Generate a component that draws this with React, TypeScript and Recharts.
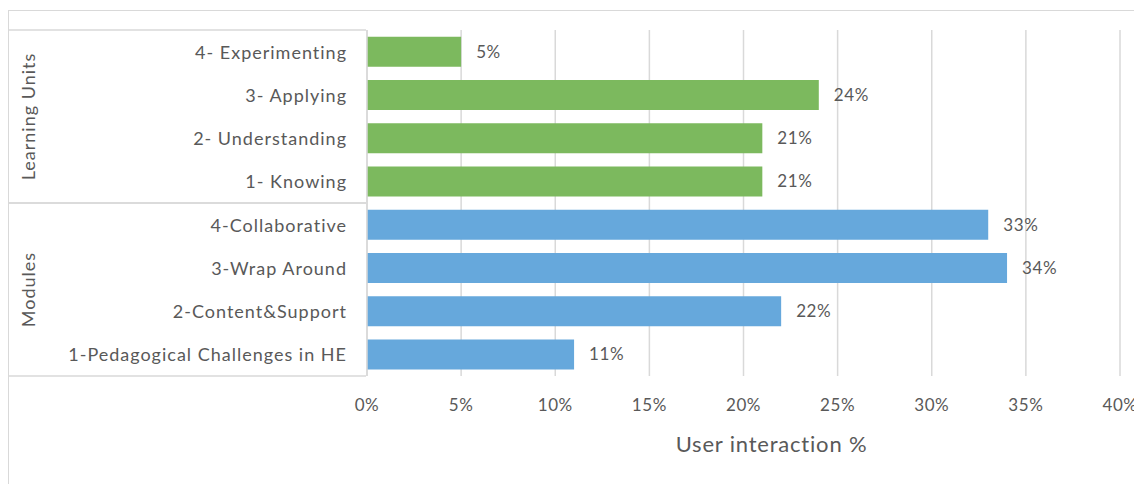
import { BarChart, Bar, XAxis, YAxis, CartesianGrid, LabelList, Cell } from "recharts";

const categories = [
  "4- Experimenting",
  "3- Applying",
  "2- Understanding",
  "1- Knowing",
  "4-Collaborative",
  "3-Wrap Around",
  "2-Content&Support",
  "1-Pedagogical Challenges in HE",
];
const groups = ["Learning Units", "Learning Units", "Learning Units", "Learning Units", "Modules", "Modules", "Modules", "Modules"];
const interaction = [5, 24, 21, 21, 33, 34, 22, 11];
const xTicks = [0, 5, 10, 15, 20, 25, 30, 35, 40];

const GREEN = "#7CB95E";
const BLUE = "#66A8DC";
const TEXT = "#595959";
const LINE = "#D9D9D9";
const FONT = "Lato, 'Open Sans', sans-serif";

const data = categories.map((name, i) => ({ name, group: groups[i], value: interaction[i] }));

function CategoryTick(props: any) {
  const { x, y, payload, index, height, visibleTicksCount } = props;
  const step = height / visibleTicksCount;
  const left = 0;
  const right = x + 1;
  const els: any[] = [];
  els.push(
    <text key="t" x={x - 18} y={y} textAnchor="end" dominantBaseline="central" fill={TEXT} fontSize={18} letterSpacing={1} fontFamily={FONT}>
      {payload.value}
    </text>
  );
  const prev = index > 0 ? groups[index - 1] : null;
  const next = index < groups.length - 1 ? groups[index + 1] : null;
  if (prev !== groups[index]) {
    els.push(<line key="top" x1={left} x2={right} y1={y - step / 2} y2={y - step / 2} stroke={LINE} strokeWidth={1.5} />);
    // group label centered on the group
    const count = groups.filter((g) => g === groups[index]).length;
    const cy = y - step / 2 + (count * step) / 2;
    els.push(
      <text key="g" x={19} y={cy} transform={`rotate(-90 19 ${cy})`} textAnchor="middle" dominantBaseline="central" fill={TEXT} fontSize={18} letterSpacing={1} fontFamily={FONT}>
        {groups[index]}
      </text>
    );
  }
  if (next !== groups[index]) {
    els.push(<line key="bot" x1={left} x2={right} y1={y + step / 2} y2={y + step / 2} stroke={LINE} strokeWidth={1.5} />);
  }
  return <g>{els}</g>;
}

export default function App() {
  return (
    <div
      style={{
        marginTop: 2,
        borderTop: `1.5px solid ${LINE}`,
        borderLeft: `1.5px solid ${LINE}`,
        width: 1134,
        height: 474,
      }}
    >
      <BarChart
        width={1133}
        height={473}
        data={data}
        layout="vertical"
        margin={{ top: 19, right: 22, bottom: 0, left: 0 }}
        barCategoryGap="15.5%"
      >
        <CartesianGrid horizontal={false} stroke={LINE} strokeWidth={1.5} />
        <XAxis
          type="number"
          domain={[0, 40]}
          ticks={xTicks}
          tickFormatter={(v) => `${v}%`}
          axisLine={false}
          tickLine={false}
          tickSize={0}
          tickMargin={23}
          height={108}
          tick={{ fill: TEXT, fontSize: 17, letterSpacing: 0.6, fontFamily: FONT }}
          label={{ value: "User interaction %", position: "insideBottom", offset: 32, dx: 28, fill: TEXT, fontSize: 22, letterSpacing: 0.8, fontFamily: FONT }}
        />
        <YAxis
          type="category"
          dataKey="name"
          width={358}
          axisLine={{ stroke: LINE, strokeWidth: 1.5 }}
          tickLine={false}
          tickSize={0}
          interval={0}
          tick={<CategoryTick />}
        />
        <Bar dataKey="value" isAnimationActive={false}>
          {data.map((d, i) => (
            <Cell key={i} fill={d.group === "Modules" ? BLUE : GREEN} />
          ))}
          <LabelList
            dataKey="value"
            position="right"
            offset={15}
            formatter={(v: any) => `${v}%`}
            fill={TEXT}
            fontSize={17}
            letterSpacing={0.6}
            fontFamily={FONT}
          />
        </Bar>
      </BarChart>
    </div>
  );
}
